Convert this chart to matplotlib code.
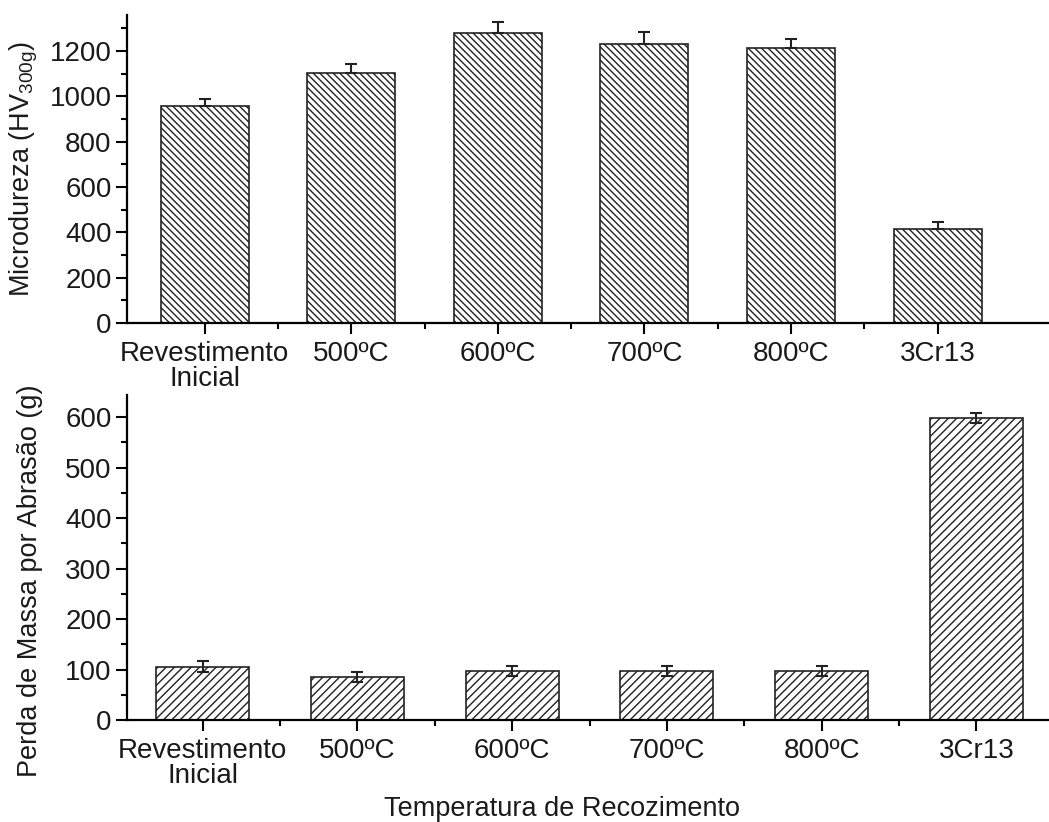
import numpy as np
import matplotlib
matplotlib.use('Agg')
import matplotlib.pyplot as plt
from matplotlib.ticker import MultipleLocator, FixedLocator

plt.rcParams['font.family'] = ['Liberation Sans', 'DejaVu Sans']
plt.rcParams['mathtext.default'] = 'regular'
plt.rcParams['hatch.linewidth'] = 1.0
plt.rcParams['hatch.color'] = '#333333'

categories = ['Revestimento\nInicial', '500ºC', '600ºC', '700ºC', '800ºC', '3Cr13']
hardness = [957, 1102, 1278, 1230, 1215, 416]
hardness_err = [31, 42, 50, 53, 40, 31]
mass_loss = [106, 86, 97, 98, 98, 598]
mass_loss_err = [11, 10, 10, 10, 10, 10]

txt = '#1a1a1a'
fs = 20
lfs = 19.5

fig = plt.figure(figsize=(10.49, 8.22), dpi=100)
ax1 = fig.add_axes([0.121, 0.607, 0.879, 0.375])
ax2 = fig.add_axes([0.121, 0.124, 0.879, 0.395])

x = np.arange(1, len(categories) + 1)


def style(ax, xlim, ylim, major, minor):
    for s in ['top', 'right']:
        ax.spines[s].set_visible(False)
    for s in ['left', 'bottom']:
        ax.spines[s].set_linewidth(1.6)
    ax.set_xlim(*xlim)
    ax.set_ylim(*ylim)
    ax.set_xticks(x)
    ax.set_xticklabels(categories)
    ax.xaxis.set_minor_locator(FixedLocator(x[:-1] + 0.5))
    ax.yaxis.set_major_locator(MultipleLocator(major))
    ax.yaxis.set_minor_locator(MultipleLocator(minor))
    ax.tick_params(which='major', direction='out', length=8, width=1.5,
                   labelsize=fs, labelcolor=txt, pad=3)
    ax.tick_params(which='minor', direction='out', length=4, width=1.5)
    ax.tick_params(axis='x', which='major', pad=5)
    for lab in ax.get_xticklabels():
        lab.set_linespacing(0.95)


ax1.bar(x, hardness, width=0.6, color='white', edgecolor='#222222',
        linewidth=1.2, hatch='\\\\\\\\\\', zorder=2)
ax1.errorbar(x, hardness, yerr=[np.zeros(len(x)), hardness_err], fmt='none',
             ecolor='#222222', elinewidth=1.5, capsize=4.5, capthick=1.5, zorder=3)
style(ax1, (0.47, 6.76), (0, 1360), 200, 100)
ax1.set_ylabel('Microdureza (HV$_{300g}$)', fontsize=lfs, color=txt)
ax1.yaxis.set_label_coords(-0.094, 0.5)

ax2.bar(x, mass_loss, width=0.6, color='white', edgecolor='#222222',
        linewidth=1.2, hatch='////', zorder=2)
ax2.errorbar(x, mass_loss, yerr=mass_loss_err, fmt='none',
             ecolor='#222222', elinewidth=1.5, capsize=4.5, capthick=1.5, zorder=3)
style(ax2, (0.51, 6.47), (0, 643), 100, 50)
ax2.set_ylabel('Perda de Massa por Abrasão (g)', fontsize=lfs, color=txt)
ax2.yaxis.set_label_coords(-0.091, 0.43)
ax2.set_xlabel('Temperatura de Recozimento', fontsize=lfs, color=txt)
ax2.xaxis.set_label_coords(0.472, -0.234)

fig.savefig('out.png', dpi=100)
